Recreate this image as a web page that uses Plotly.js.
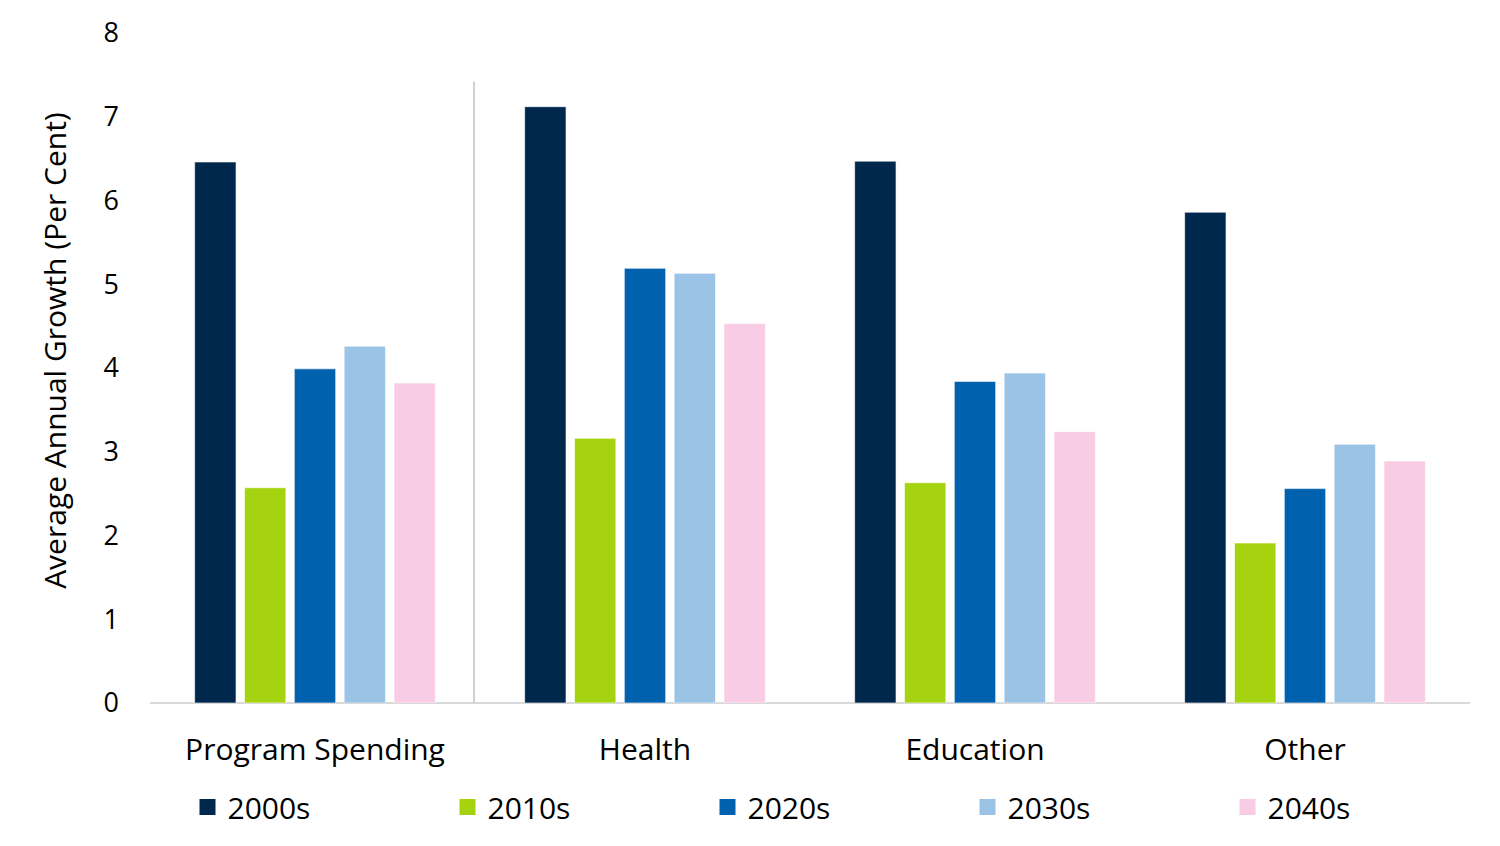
<!DOCTYPE html>
<html>
<head>
<meta charset="utf-8">
<script src="https://cdn.plot.ly/plotly-3.0.1.min.js"></script>
<style>
  html, body { margin: 0; padding: 0; background: #ffffff; }
  #chart { width: 1500px; height: 846px; }
</style>
</head>
<body>
<div id="chart"></div>
<script>
// categories and series values
var categories = ['Program Spending', 'Health', 'Education', 'Other'];
var decades = ['2000s', '2010s', '2020s', '2030s', '2040s'];
var growth2000s = [6.46, 7.12, 6.47, 5.86];
var growth2010s = [2.57, 3.16, 2.63, 1.91];
var growth2020s = [3.99, 5.19, 3.84, 2.56];
var growth2030s = [4.26, 5.13, 3.94, 3.09];
var growth2040s = [3.82, 4.53, 3.24, 2.89];
var yTicks = [0, 1, 2, 3, 4, 5, 6, 7, 8];
var yTitle = 'Average Annual Growth (Per Cent)';

var seriesValues = [growth2000s, growth2010s, growth2020s, growth2030s, growth2040s];
var colours = ['#00284C', '#A5D30F', '#0062AF', '#9BC3E6', '#F8CCE4'];

var traces = [];
for (let i = 0; i < decades.length; i++) {
    traces.push({
        type: 'bar',
        name: decades[i],
        legendgroup: decades[i],
        showlegend: false,
        x: categories,
        y: seriesValues[i],
        marker: {
            color: colours[i],
            line: {color: 'rgba(255,255,255,0.6)', width: 1}
        },
        hoverinfo: 'x+y+name'
    });
}
// square legend keys (bigger than plotly's default bar swatch)
for (let i = 0; i < decades.length; i++) {
    traces.push({
        type: 'scatter',
        mode: 'markers',
        name: decades[i],
        legendgroup: decades[i],
        x: [null],
        y: [null],
        marker: {symbol: 'square', size: 18, color: colours[i]},
        hoverinfo: 'skip'
    });
}

var fontFamily = '"Open Sans", "Noto Sans", sans-serif';

var layout = {
    width: 1500,
    height: 846,
    paper_bgcolor: '#ffffff',
    plot_bgcolor: '#ffffff',
    font: {family: fontFamily, size: 28, color: '#000000'},
    margin: {l: 150, r: 30, t: 33, b: 143},
    barmode: 'group',
    bargap: 0.245,
    bargroupgap: 0.17,
    showlegend: true,
    legend: {
        orientation: 'h',
        xref: 'container',
        yref: 'container',
        x: 0.125,
        xanchor: 'left',
        y: 0.046,
        yanchor: 'middle',
        entrywidth: 215,
        entrywidthmode: 'pixels',
        font: {family: fontFamily, size: 30, color: '#000000'},
        traceorder: 'normal'
    },
    xaxis: {
        type: 'category',
        tickfont: {family: fontFamily, size: 30, color: '#000000'},
        showgrid: false,
        zeroline: false,
        showline: false,
        ticks: '',
        ticklen: 0,
        ticklabelstandoff: 26,
        automargin: false
    },
    yaxis: {
        range: [0, 8],
        tickvals: yTicks,
        ticktext: yTicks.map(String),
        showgrid: false,
        zeroline: true,
        zerolinecolor: '#D9D9D9',
        zerolinewidth: 2,
        showline: false,
        ticks: '',
        ticklabelstandoff: 30,
        tickfont: {family: fontFamily, size: 27, color: '#000000'},
        automargin: false
    },
    annotations: [{
        text: yTitle,
        xref: 'paper',
        yref: 'paper',
        x: -0.072,
        y: 0.527,
        xanchor: 'center',
        yanchor: 'middle',
        textangle: -90,
        showarrow: false,
        font: {family: fontFamily, size: 30, color: '#000000'}
    }],
    shapes: [{
        // separator between the total and its components
        type: 'line',
        xref: 'x',
        yref: 'y',
        x0: 0.482,
        x1: 0.482,
        y0: 0,
        y1: 7.42,
        line: {color: '#D0D0D0', width: 2}
    }]
};

Plotly.newPlot('chart', traces, layout, {displayModeBar: false, staticPlot: true});
</script>
</body>
</html>
